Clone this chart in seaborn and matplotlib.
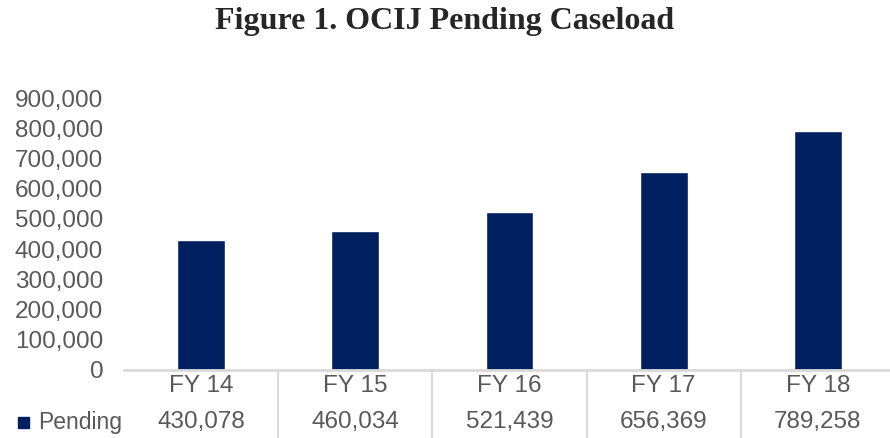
import pandas as pd
import seaborn as sns
import matplotlib.pyplot as plt
from matplotlib.ticker import FuncFormatter
from matplotlib.patches import Rectangle

years = ["FY 14", "FY 15", "FY 16", "FY 17", "FY 18"]
pending = [430078, 460034, 521439, 656369, 789258]
series_name = "Pending"

navy = "#002060"
grey_txt = "#595959"
grey_line = "#d9d9d9"

df = pd.DataFrame({"year": years, "pending": pending})

sns.set_style("white")
plt.rcParams["font.family"] = ["Liberation Sans", "DejaVu Sans"]

fig = plt.figure(figsize=(8.9, 4.38), dpi=100)
ax = fig.add_axes([124 / 890, 1 - 370 / 438, 771 / 890, 272 / 438])

sns.barplot(x="year", y="pending", data=df, color=navy, width=0.31,
            saturation=1, ax=ax)

ax.set_ylim(0, 900000)
ax.set_yticks(range(0, 900001, 100000))
ax.yaxis.set_major_formatter(FuncFormatter(lambda v, p: f"{int(v):,}"))
ax.tick_params(axis="y", length=0, labelsize=17.5, labelcolor=grey_txt, pad=15)
ax.set_xticks([])
ax.set_xlabel("")
ax.set_ylabel("")
for s in ["top", "right", "left"]:
    ax.spines[s].set_visible(False)
ax.spines["bottom"].set_color(grey_line)
ax.spines["bottom"].set_linewidth(2)

# data table under the axis
trans = ax.get_xaxis_transform()
for i, (yr, val) in enumerate(zip(years, pending)):
    ax.text(i, -0.06, yr, transform=trans, ha="center", va="center",
            fontsize=17.5, color=grey_txt)
    ax.text(i, -0.19, f"{val:,}", transform=trans, ha="center", va="center",
            fontsize=17.5, color=grey_txt)
for i in range(len(years) - 1):
    ax.plot([i + 0.5, i + 0.5], [0, -0.26], transform=trans, color=grey_line,
            lw=1.5, clip_on=False)
ax.set_xlim(-0.5, len(years) - 0.5)

fig.text(38 / 890, 1 - 422 / 438, series_name, ha="left", va="center",
         fontsize=16.5, color=grey_txt)
fig.patches.append(Rectangle((18 / 890, 1 - 428 / 438), 11 / 890, 11 / 438,
                             transform=fig.transFigure, color=navy))

fig.suptitle("Figure 1. OCIJ Pending Caseload", x=0.5, y=1 - 22 / 438,
             va="center", fontsize=23, fontweight="bold",
             family=["Liberation Serif", "DejaVu Serif"])

fig.savefig("out.png", dpi=100)
